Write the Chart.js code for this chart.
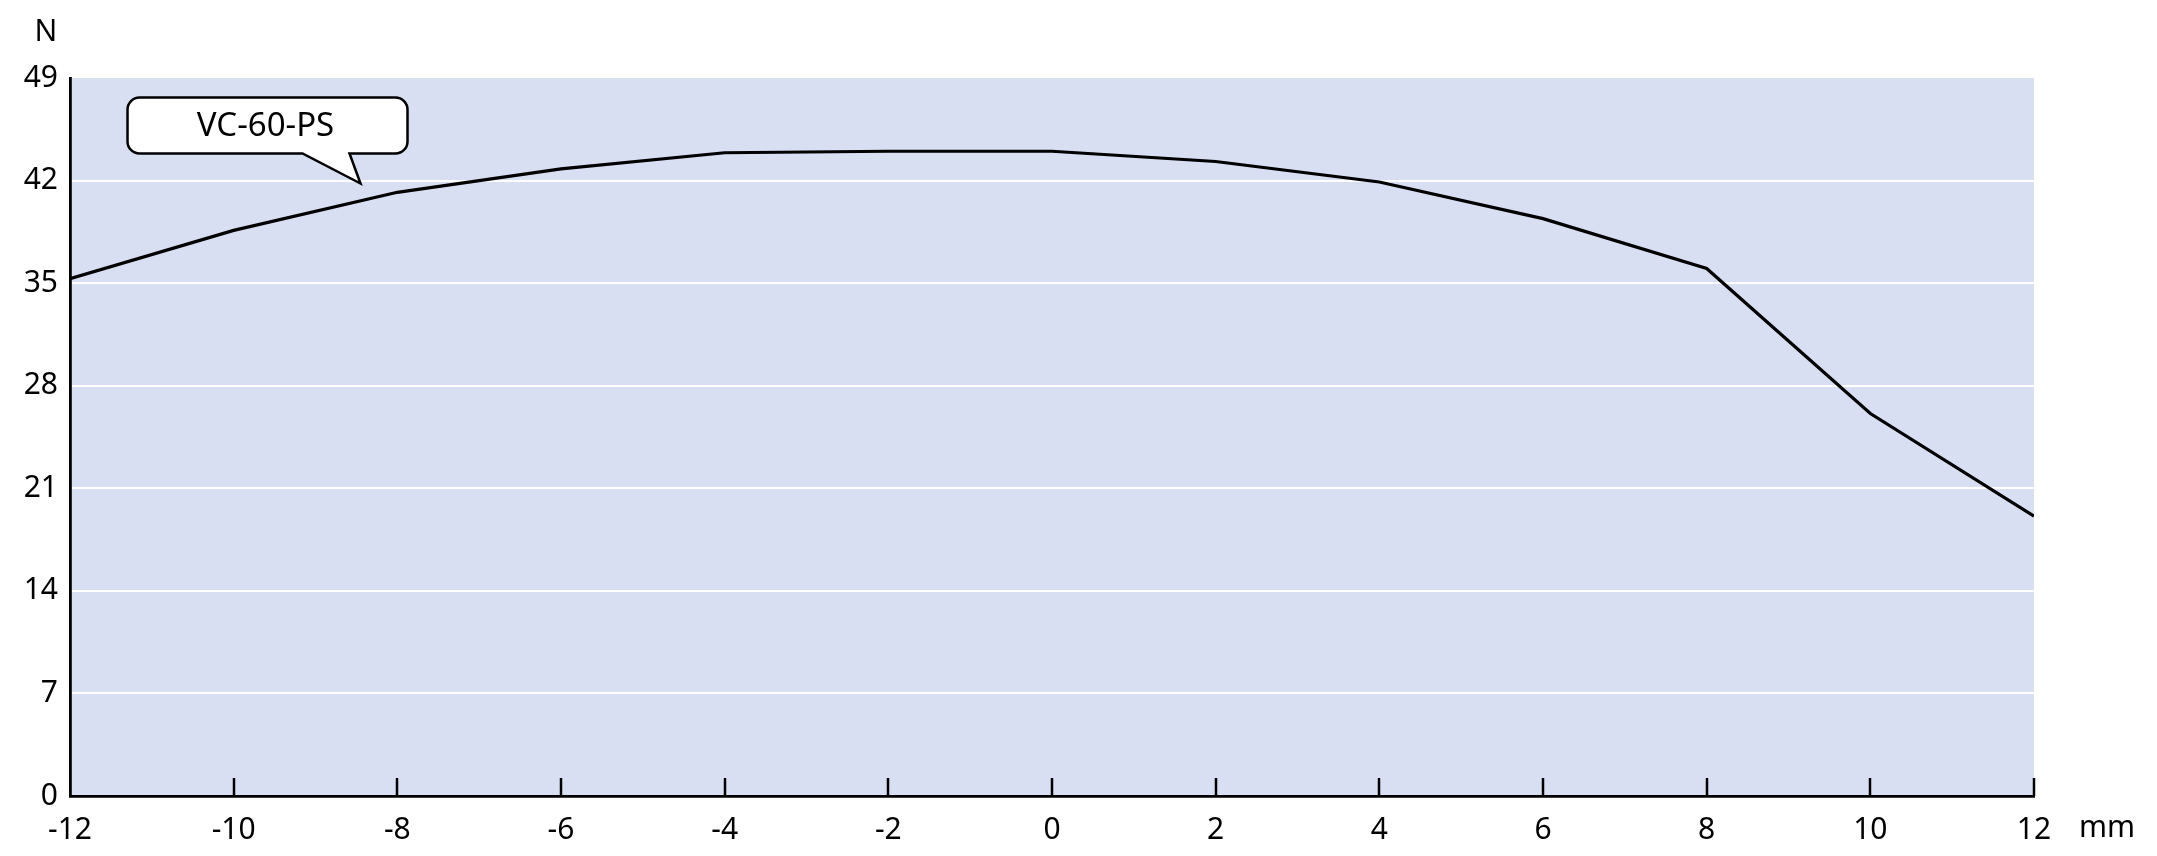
<!DOCTYPE html>
<html>
<head>
<meta charset="utf-8">
<script src="https://cdn.jsdelivr.net/npm/chart.js@4.4.0/dist/chart.umd.min.js"></script>
<style>
  html, body { margin: 0; padding: 0; background: #fff; }
  #wrap { width: 2157px; height: 856px; }
</style>
</head>
<body>
<div id="wrap"><canvas id="chart_force" width="2157" height="856"></canvas></div>
<script>
// stroke (mm) vs force (N)
const strokes = [-12, -10, -8, -6, -4, -2, 0, 2, 4, 6, 8, 10, 12]
const forces = [35.3, 38.6, 41.2, 42.8, 43.9, 44.0, 44.0, 43.3, 41.9, 39.4, 36.0, 26.1, 19.1]
const seriesName = 'VC-60-PS'
const yUnit = 'N'
const xUnit = 'mm'

const FONT = '"Noto Sans", "Open Sans", sans-serif'
const plotBg = '#d9dff2'

// plot background + labels + inward x ticks + callout
const decor = {
    id: 'decor',
    beforeDraw(chart) {
        const { ctx, chartArea: a } = chart
        ctx.save()
        ctx.fillStyle = plotBg
        ctx.fillRect(a.left, a.top, a.right - a.left, a.bottom - a.top)
        ctx.restore()
    },
    afterDraw(chart) {
        const { ctx, chartArea: a } = chart
        const xs = chart.scales.x, ys = chart.scales.y
        ctx.save()
        // tick marks pointing up into the plot
        ctx.strokeStyle = '#000'
        ctx.lineWidth = 2.5
        xs.ticks.forEach((t, i) => {
            if (i === 0) return
            const px = Math.round(xs.getPixelForValue(t.value))
            ctx.beginPath()
            ctx.moveTo(px, a.bottom)
            ctx.lineTo(px, a.bottom - 18)
            ctx.stroke()
        })
        // unit labels
        ctx.fillStyle = '#000'
        ctx.font = '30px ' + FONT
        ctx.textAlign = 'center'
        ctx.textBaseline = 'middle'
        ctx.fillText(yUnit, a.left - 24, a.top - 46)
        ctx.fillText(xUnit, a.right + 73, a.bottom + 32)

        // callout pointing at the curve
        const tipX = xs.getPixelForValue(-8.45)
        const tipY = ys.getPixelForValue(41.8)
        const bx = tipX - 233, by = tipY - 86, bw = 280, bh = 56, r = 12
        const t1 = tipX - 58, t2 = tipX - 11
        ctx.beginPath()
        ctx.moveTo(bx + r, by)
        ctx.lineTo(bx + bw - r, by)
        ctx.arcTo(bx + bw, by, bx + bw, by + r, r)
        ctx.lineTo(bx + bw, by + bh - r)
        ctx.arcTo(bx + bw, by + bh, bx + bw - r, by + bh, r)
        ctx.lineTo(t2, by + bh)
        ctx.lineTo(tipX, tipY)
        ctx.lineTo(t1, by + bh)
        ctx.lineTo(bx + r, by + bh)
        ctx.arcTo(bx, by + bh, bx, by + bh - r, r)
        ctx.lineTo(bx, by + r)
        ctx.arcTo(bx, by, bx + r, by, r)
        ctx.closePath()
        ctx.fillStyle = '#fff'
        ctx.fill()
        ctx.lineWidth = 2.5
        ctx.strokeStyle = '#000'
        ctx.stroke()
        ctx.fillStyle = '#000'
        ctx.font = '33px ' + FONT
        ctx.fillText(seriesName, bx + bw / 2 - 2, by + bh / 2 + 1)
        ctx.restore()
    }
}

const ctx = document.getElementById('chart_force').getContext('2d')
window.forceChart = new Chart(ctx, {
    type: 'line',
    data: {
        datasets: [{
            label: seriesName,
            data: strokes.map((s, i) => ({ x: s, y: forces[i] })),
            borderColor: '#000',
            borderWidth: 3.2,
            pointRadius: 0,
            tension: 0,
            fill: false
        }]
    },
    options: {
        responsive: false,
        animation: false,
        layout: { padding: { left: 0, right: 123, top: 78, bottom: 0 } },
        plugins: {
            legend: { display: false },
            tooltip: { enabled: false }
        },
        scales: {
            x: {
                type: 'linear',
                min: -12,
                max: 12,
                ticks: {
                    stepSize: 2,
                    color: '#000',
                    font: { size: 30, family: FONT },
                    padding: 8,
                    maxRotation: 0,
                    autoSkip: false
                },
                grid: { display: false },
                border: { display: true, color: '#000', width: 2.8 },
                afterFit(scale) {
                    scale.height = 60
                    scale.paddingLeft = 0
                    scale.paddingRight = 0
                }
            },
            y: {
                min: 0,
                max: 49,
                ticks: {
                    stepSize: 7,
                    color: '#000',
                    font: { size: 30, family: FONT },
                    padding: 12
                },
                grid: {
                    drawTicks: false,
                    lineWidth: 2,
                    color: (c) => (c.tick && (c.tick.value === 0 || c.tick.value === 49)) ? 'rgba(0,0,0,0)' : '#ffffff'
                },
                border: { display: true, color: '#000', width: 2.8 },
                afterFit(scale) {
                    scale.width = 70
                    scale.paddingTop = 0
                    scale.paddingBottom = 0
                }
            }
        }
    },
    plugins: [decor]
})
</script>
</body>
</html>
